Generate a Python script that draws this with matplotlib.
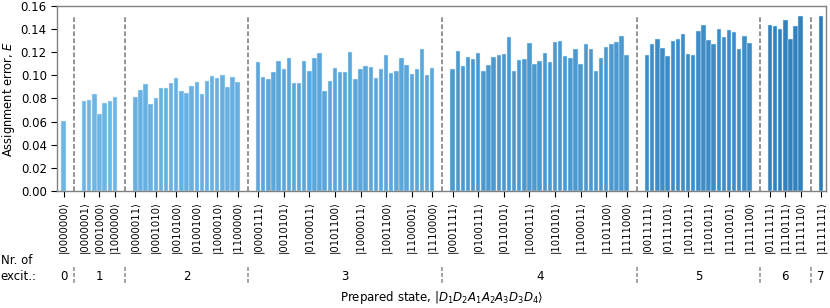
import matplotlib
matplotlib.use("Agg")
import matplotlib.pyplot as plt
import numpy as np
from matplotlib.transforms import blended_transform_factory

# ---- data -------------------------------------------------------------
exc_0 = [0.0605]
exc_1 = [0.0778, 0.0790, 0.0842, 0.0669, 0.0761, 0.0781, 0.0813]
exc_2 = [0.0813, 0.0876, 0.0928, 0.0755, 0.0804, 0.0888, 0.0888, 0.0931,
         0.0977, 0.0865, 0.0850, 0.0911, 0.0946, 0.0839, 0.0948, 0.0995,
         0.0974, 0.1000, 0.0902, 0.0983, 0.0943]
exc_3 = [0.1113, 0.0989, 0.0969, 0.1029, 0.1124, 0.1052, 0.1147, 0.0937,
         0.0937, 0.1121, 0.1035, 0.1153, 0.1193, 0.0862, 0.0951, 0.1061,
         0.1029, 0.1026, 0.1199, 0.0969, 0.1055, 0.1078, 0.1075, 0.0977,
         0.1052, 0.1176, 0.1020, 0.1038, 0.1147, 0.1093, 0.1009, 0.1058,
         0.1231, 0.1000, 0.1067]
exc_4 = [0.1055, 0.1208, 0.1081, 0.1162, 0.1139, 0.1191, 0.1041, 0.1087,
         0.1156, 0.1179, 0.1182, 0.1332, 0.1035, 0.1130, 0.1139, 0.1280,
         0.1101, 0.1121, 0.1191, 0.1116, 0.1289, 0.1297, 0.1170, 0.1147,
         0.1231, 0.1101, 0.1268, 0.1231, 0.1035, 0.1150, 0.1242, 0.1268,
         0.1286, 0.1343, 0.1179]
exc_5 = [0.1179, 0.1268, 0.1315, 0.1234, 0.1167, 0.1297, 0.1317, 0.1355,
         0.1185, 0.1176, 0.1387, 0.1438, 0.1303, 0.1268, 0.1404, 0.1329,
         0.1389, 0.1372, 0.1225, 0.1340, 0.1280]
exc_6 = [0.1436, 0.1430, 0.1401, 0.1482, 0.1315, 0.1430, 0.1513]
exc_7 = [0.1513]

groups = [exc_0, exc_1, exc_2, exc_3, exc_4, exc_5, exc_6, exc_7]
group_names = ["0", "1", "2", "3", "4", "5", "6", "7"]

# tick positions (index inside each group) and their labels
tick_index = [
    [0],
    [0, 3, 6],
    [0, 4, 8, 12, 16, 20],
    [0, 5, 10, 15, 20, 25, 30, 34],
    [0, 5, 10, 15, 20, 25, 30, 34],
    [0, 4, 8, 12, 16, 20],
    [0, 3, 6],
    [0],
]
tick_states = [
    ["0000000"],
    ["0000001", "0001000", "1000000"],
    ["0000011", "0001010", "0010100", "0100100", "1000010", "1100000"],
    ["0000111", "0010101", "0100011", "0101100", "1000011", "1001100",
     "1100001", "1110000"],
    ["0001111", "0100111", "0110101", "1000111", "1010101", "1100011",
     "1101100", "1111000"],
    ["0011111", "0111101", "1011011", "1101011", "1110101", "1111100"],
    ["0111111", "1110111", "1111110"],
    ["1111111"],
]

group_colors = ["#6db5e5", "#6db5e5", "#67b0e1", "#5ba6da", "#4c99d0",
                "#3e8cc6", "#3181be", "#2b7ab8"]

# ---- figure -----------------------------------------------------------
plt.rcParams["font.family"] = ["DejaVu Sans"]
fig = plt.figure(figsize=(8.3, 3.08), dpi=100)
ax = fig.add_axes([0.069, 0.380, 0.9262, 0.6005])

gap = 4
start = 0
sep_positions = []
group_centers = []
xt, xl = [], []
for g, (vals, col) in enumerate(zip(groups, group_colors)):
    pos = start + np.arange(len(vals))
    ax.bar(pos, vals, width=0.86, color=col, edgecolor="#d8ecf8",
           linewidth=0.35)
    group_centers.append(pos.mean())
    for i, s in zip(tick_index[g], tick_states[g]):
        xt.append(pos[i])
        xl.append("|" + s + "\u27e9")
    if g < len(groups) - 1:
        sep_positions.append(pos[-1] + gap / 2)
    start = pos[-1] + gap

for s in sep_positions:
    ax.plot([s, s], [0, 0.1515], color="#8a8a8a", lw=1.3,
            dashes=(2.6, 1.3), zorder=3)

ax.set_xlim(-1.25, start - gap + 0.95)
ax.set_ylim(0, 0.16)
ax.set_yticks(np.arange(0, 0.161, 0.02))
ax.set_yticklabels([f"{v:.2f}" for v in np.arange(0, 0.161, 0.02)], fontsize=8.5)
ax.set_xticks(xt)
ax.set_xticklabels(xl, rotation=90, fontsize=7.3)
ax.tick_params(axis="both", length=4, width=0.8, color="black")
ax.tick_params(axis="x", pad=3)
for sp in ax.spines.values():
    sp.set_color("#808080")
    sp.set_linewidth(1.0)

ax.set_ylabel("Assignment error, $E$", fontsize=8.3, va="center",
              rotation_mode="default")
ax.yaxis.set_label_coords(-(57.3 - 9.0) / 768.7, 0.5)

trans = blended_transform_factory(ax.transData, ax.transAxes)
for c, name in zip(group_centers, group_names):
    ax.text(c, -0.46, name, transform=trans, ha="center", va="center",
            fontsize=8.5)
for s in sep_positions:
    ax.plot([s, s], [-0.41, -0.50], transform=trans, clip_on=False,
            color="#8a8a8a", lw=1.1, dashes=(2.6, 1.3))

fig.text(0.001, 1 - 261 / 308, "Nr. of", ha="left", va="center", fontsize=8.5)
fig.text(0.001, 1 - 276 / 308, "excit.:", ha="left", va="center", fontsize=8.5)

fig.text((57.3 + 826) / 2 / 830, 1 - 298 / 308,
         r"Prepared state, $|D_1D_2A_1A_2A_3D_3D_4\rangle$",
         ha="center", va="center", fontsize=8.5)

fig.savefig("out.png", dpi=100)
